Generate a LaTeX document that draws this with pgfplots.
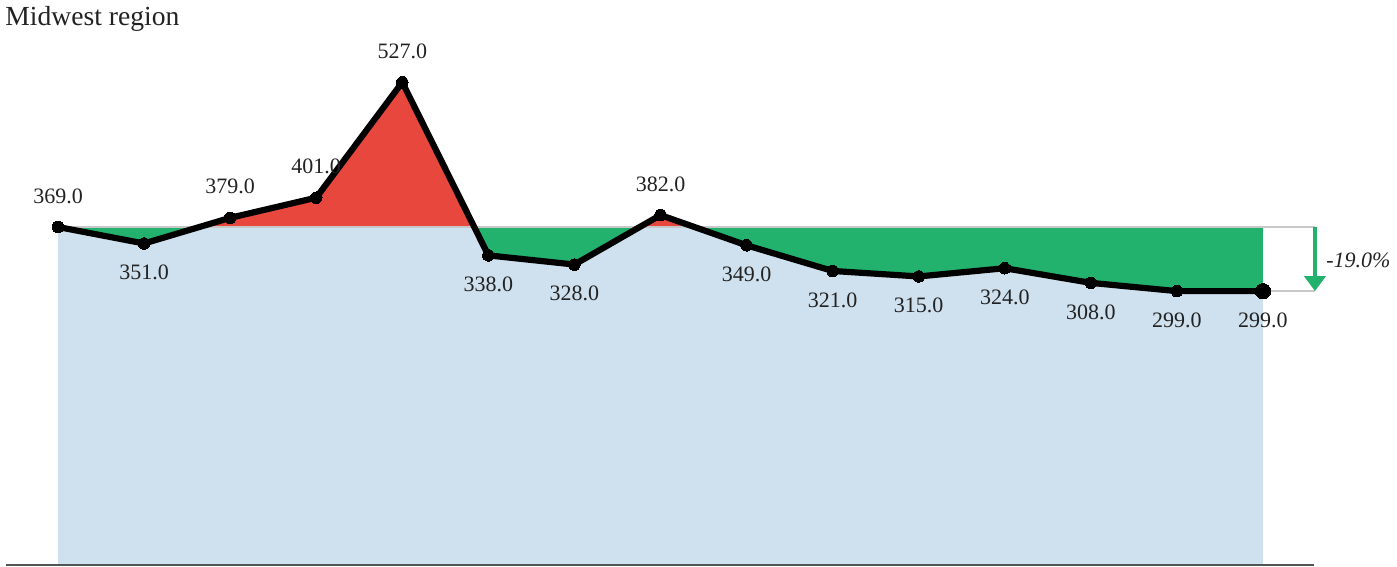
\documentclass[border=0pt]{standalone}
\usepackage{pgfplots}
\pgfplotsset{compat=1.18}
\usepackage{pgfplotstable}
\usetikzlibrary{arrows.meta}
\usepackage{fontspec}
\setmainfont{Liberation Serif}
\definecolor{cRed}{HTML}{E8473E}
\definecolor{cGreen}{HTML}{22B26E}
\definecolor{cBlue}{HTML}{CFE0EE}
\definecolor{cGrey}{HTML}{C8C8C8}
\definecolor{cText}{HTML}{222222}
\definecolor{cAxis}{HTML}{505555}

\pgfplotstableread{
x y pos
0 369 15.5
1 351 -14.5
2 379 15.5
3 401 15.5
4 527 15.5
5 338 -14.5
6 328 -14.5
7 382 15.5
8 349 -14.5
9 321 -14.5
10 315 -14.5
11 324 -14.5
12 308 -14.5
13 299 -14.5
14 299 -14.5
}\datatable

\pgfplotsset{common/.style={
  x=43.035pt, y=0.45801pt,
  xmin=-0.6739, xmax=15.557,
  axis line style={draw=none},
  ticks=none,
  anchor=south west,
}}

\begin{document}
\begin{tikzpicture}
% upper part (above the reference 369): red area under the line
\begin{axis}[common, ymin=369, ymax=616.8, at={(0pt,169.51pt)}, clip=true]
\addplot[fill=cRed, draw=none] table[x=x,y=y] {\datatable} \closedcycle;
\end{axis}
% lower part (below the reference 369): green above the line, blue below it
\begin{axis}[common, ymin=-1.1, ymax=369, at={(0pt,0pt)}, clip=true]
\addplot[fill=cGreen, draw=none] coordinates {(0,0) (0,369) (14,369) (14,0) (0,0)};
\addplot[fill=cBlue, draw=none] table[x=x,y=y] {\datatable} \closedcycle;
\end{axis}
% main axis
\begin{axis}[common, ymin=-1.1, ymax=616.8, at={(0pt,0pt)}, clip=false,
  /pgf/number format/assume math mode=true]
% grey reference lines
\addplot[cGrey, line width=1pt] coordinates {(0,369) (14.604,369)};
\addplot[cGrey, line width=1pt] coordinates {(14,299) (14.604,299)};
% bottom axis line
\addplot[cAxis, line width=0.7pt] coordinates {(-0.604,0) (14.593,0)};
% arrow
\addplot[cGreen, line width=2pt, -{Triangle[width=10.5pt,length=7.5pt]}] coordinates {(14.604,369) (14.604,299)};
% labels
\addplot[draw=none,
  point meta=\thisrow{y},
  visualization depends on={\thisrow{pos}\as\lpos},
  nodes near coords={\pgfmathprintnumber[fixed,fixed zerofill,precision=1]{\pgfplotspointmeta}},
  nodes near coords style={anchor=center, yshift=\lpos pt, inner sep=0pt,
    font=\fontsize{11pt}{13pt}\selectfont, text=cText},
] table[x=x,y=y] {\datatable};
% main line
\addplot[black, line width=3.1pt, line join=round, mark=*, mark size=2.9pt,
  mark options={solid, line width=0pt, fill=black}] table[x=x,y=y] {\datatable};
\addplot[only marks, mark=*, mark size=3.8pt, black, mark options={line width=0pt, fill=black}] coordinates {(14,299)};
% texts
\node[anchor=base west, inner sep=0pt, font=\fontsize{13.8pt}{16pt}\selectfont, text=cText]
  at (axis cs:-0.616,589.5) {Midwest region};
\node[anchor=west, inner sep=0pt, font=\itshape\fontsize{11pt}{13pt}\selectfont, text=cText]
  at (axis cs:14.732,333) {-19.0\%};
\end{axis}
\end{tikzpicture}
\end{document}
